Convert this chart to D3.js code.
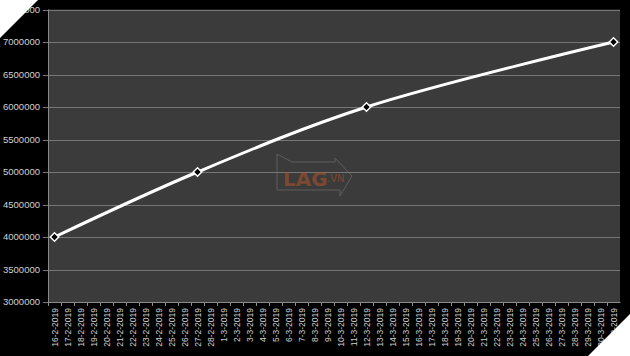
<!DOCTYPE html>
<html>
<head>
<meta charset="utf-8">
<script src="https://cdn.jsdelivr.net/npm/d3@7"></script>
<style>
  body { margin: 0; background: #000; }
  svg { display: block; }
</style>
</head>
<body>
<script>
var W = 630, H = 356;
var margin = { top: 9.5, right: 10, bottom: 54, left: 48 };

// categories: every day from 16-2-2019 to 31-3-2019
var days = [
  "16-2-2019","17-2-2019","18-2-2019","19-2-2019","20-2-2019","21-2-2019","22-2-2019",
  "23-2-2019","24-2-2019","25-2-2019","26-2-2019","27-2-2019","28-2-2019",
  "1-3-2019","2-3-2019","3-3-2019","4-3-2019","5-3-2019","6-3-2019","7-3-2019",
  "8-3-2019","9-3-2019","10-3-2019","11-3-2019","12-3-2019","13-3-2019","14-3-2019",
  "15-3-2019","16-3-2019","17-3-2019","18-3-2019","19-3-2019","20-3-2019","21-3-2019",
  "22-3-2019","23-3-2019","24-3-2019","25-3-2019","26-3-2019","27-3-2019","28-3-2019",
  "29-3-2019","30-3-2019","31-3-2019"
];
// known points only
var pointDays = ["16-2-2019", "27-2-2019", "12-3-2019", "31-3-2019"];
var pointValues = [4000000, 5000000, 6000000, 7000000];
var yTicks = [3000000, 3500000, 4000000, 4500000, 5000000, 5500000, 6000000, 6500000, 7000000, 7500000];

var data = pointDays.map(function(d, i) { return { day: d, value: pointValues[i] }; });

var svg = d3.select("body").append("svg")
  .attr("width", W)
  .attr("height", H);

svg.append("rect").attr("width", W).attr("height", H).attr("fill", "#000");

var x = d3.scaleBand()
  .domain(days)
  .range([margin.left, W - margin.right]);

var y = d3.scaleLinear()
  .domain([3000000, 7500000])
  .range([H - margin.bottom, margin.top]);

// plot area
svg.append("rect")
  .attr("x", margin.left)
  .attr("y", margin.top)
  .attr("width", W - margin.right - margin.left)
  .attr("height", H - margin.bottom - margin.top)
  .attr("fill", "#3b3b3b");

// gridlines
svg.append("g")
  .selectAll("line")
  .data(yTicks)
  .enter()
  .append("line")
  .attr("x1", margin.left - 5)
  .attr("x2", W - margin.right)
  .attr("y1", function(d) { return Math.round(y(d)) + 0.5; })
  .attr("y2", function(d) { return Math.round(y(d)) + 0.5; })
  .attr("stroke", "#767676")
  .attr("stroke-width", 1);

// left axis line
svg.append("line")
  .attr("x1", margin.left + 0.5).attr("x2", margin.left + 0.5)
  .attr("y1", margin.top).attr("y2", H - margin.bottom)
  .attr("stroke", "#8a8a8a");

// y labels
svg.append("g")
  .selectAll("text")
  .data(yTicks)
  .enter()
  .append("text")
  .attr("x", margin.left - 8)
  .attr("y", function(d) { return y(d); })
  .attr("dy", "0.35em")
  .attr("text-anchor", "end")
  .attr("fill", "#d0d0d0")
  .style("font-family", "'Liberation Sans', Arial, sans-serif")
  .style("font-size", "9.5px")
  .text(function(d) { return d; });

// x axis with ticks between categories
var xAxis = d3.axisBottom(x).tickSize(0).tickFormat("");
svg.append("g")
  .attr("transform", "translate(0," + (H - margin.bottom) + ")")
  .call(xAxis)
  .call(function(g) { g.select(".domain").attr("stroke", "#8a8a8a"); });

svg.append("g")
  .selectAll("line")
  .data(days)
  .enter()
  .append("line")
  .attr("x1", function(d) { return Math.round(x(d)) + 0.5; })
  .attr("x2", function(d) { return Math.round(x(d)) + 0.5; })
  .attr("y1", H - margin.bottom)
  .attr("y2", H - margin.bottom + 4)
  .attr("stroke", "#8a8a8a");

// x labels, rotated
svg.append("g")
  .selectAll("text")
  .data(days)
  .enter()
  .append("text")
  .attr("transform", function(d) {
    return "translate(" + (x(d) + x.bandwidth() / 2 + 3) + "," + (H - margin.bottom + 6) + ") rotate(-90)";
  })
  .attr("text-anchor", "end")
  .attr("fill", "#d0d0d0")
  .style("font-family", "'Liberation Sans', Arial, sans-serif")
  .style("font-size", "8.5px")
  .text(function(d) { return d; });

// watermark
var wm = svg.append("g").attr("opacity", 0.55);
wm.append("path")
  .attr("d", "M277,154 L292,162 L335,162 L335,158 L352,176 L340,196 L340,190 L277,190 Z")
  .attr("fill", "none")
  .attr("stroke", "#7a7a7a")
  .attr("stroke-width", 1);
wm.append("text")
  .attr("x", 283).attr("y", 186)
  .attr("fill", "#b0532a")
  .style("font-family", "'DejaVu Sans', sans-serif")
  .style("font-weight", "bold")
  .style("font-size", "20px")
  .text("LAG");
wm.append("text")
  .attr("x", 327).attr("y", 182)
  .attr("fill", "#b0532a")
  .style("font-family", "'DejaVu Sans', sans-serif")
  .style("font-size", "10px")
  .text(".VN");

// line
var line = d3.line()
  .x(function(d) { return x(d.day) + x.bandwidth() / 2; })
  .y(function(d) { return y(d.value); })
  .curve(d3.curveCatmullRom);

svg.append("path")
  .datum(data)
  .attr("d", line)
  .attr("fill", "none")
  .attr("stroke", "#ffffff")
  .attr("stroke-width", 3);

// diamond markers
svg.append("g")
  .selectAll("path")
  .data(data)
  .enter()
  .append("path")
  .attr("transform", function(d) {
    return "translate(" + (x(d.day) + x.bandwidth() / 2) + "," + y(d.value) + ") rotate(45)";
  })
  .attr("d", "M-3,-3 L3,-3 L3,3 L-3,3 Z")
  .attr("fill", "#000")
  .attr("stroke", "#ffffff")
  .attr("stroke-width", 1.5);

// white photo corners
svg.append("path").attr("d", "M0,0 L38,0 L0,38 Z").attr("fill", "#fff");
svg.append("path").attr("d", "M630,314 L630,356 L588,356 Z").attr("fill", "#fff");
</script>
</body>
</html>
